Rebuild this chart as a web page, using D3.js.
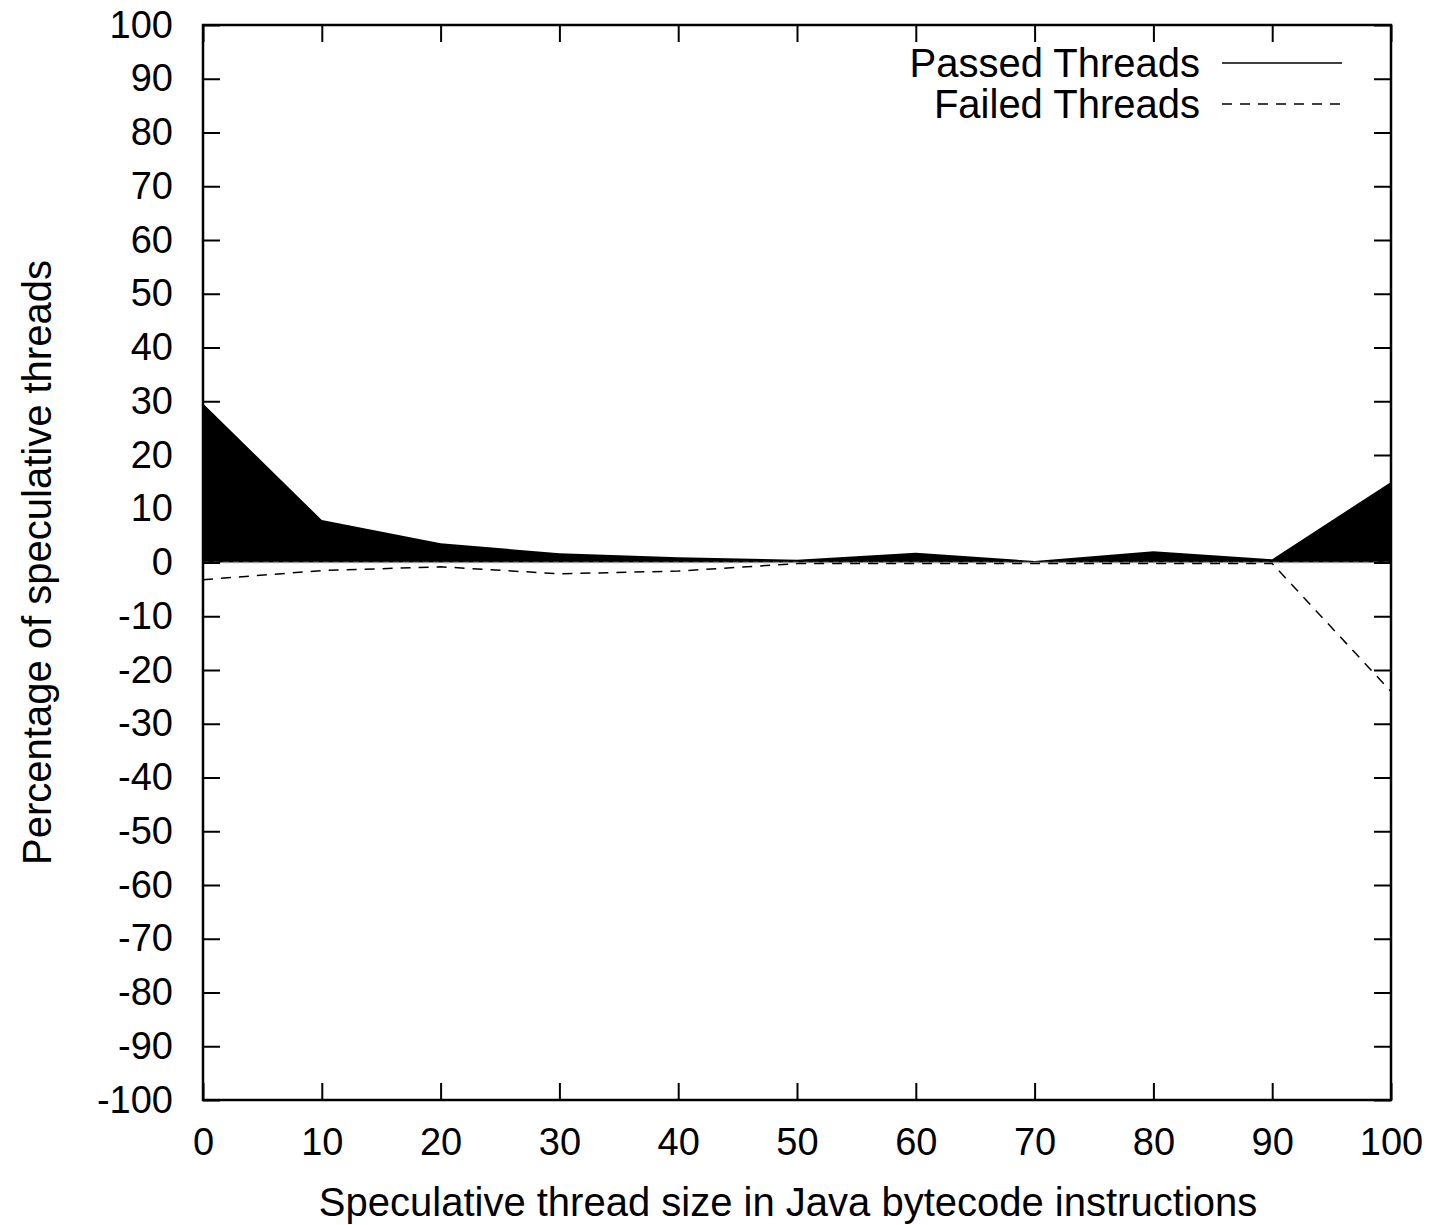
<!DOCTYPE html>
<html>
<head>
<meta charset="utf-8">
<script src="https://cdn.jsdelivr.net/npm/d3@7"></script>
<style>
  body { margin: 0; background: #fff; }
  text { font-family: "Liberation Sans", Arial, sans-serif; fill: #000; }
</style>
</head>
<body>
<script>
// data
const sizes = [0, 10, 20, 30, 40, 50, 60, 70, 80, 90, 100];
const passed = [29.6, 7.9, 3.6, 1.7, 1.0, 0.5, 1.8, 0.3, 2.1, 0.6, 15];
const failed = [-3.2, -1.5, -0.8, -2.1, -1.6, -0.2, -0.2, -0.2, -0.2, -0.2, -24];
const xTicks = [0, 10, 20, 30, 40, 50, 60, 70, 80, 90, 100];
const yTicks = d3.range(-100, 101, 10);

const margin = {top: 25, right: 47, bottom: 125, left: 203},
    width = 1438 - margin.left - margin.right,
    height = 1225 - margin.top - margin.bottom;

const svg = d3.select("body")
    .append("svg")
    .attr("width", 1438)
    .attr("height", 1225)
    .append("g")
    .attr("transform", `translate(${margin.left}, ${margin.top})`);

const x = d3.scaleLinear().domain([0, 100]).range([0, width]);
const y = d3.scaleLinear().domain([-100, 100]).range([height, 0]);

const data = sizes.map((s, i) => ({s, p: passed[i], f: failed[i]}));

// filled area for passed threads
svg.append("path")
    .datum(data)
    .attr("fill", "#000")
    .attr("d", d3.area().x(d => x(d.s)).y0(y(0)).y1(d => y(d.p)));

// zero line (dashed, shows lighter over the fill)
svg.append("line")
    .attr("x1", 0).attr("x2", width)
    .attr("y1", y(0)).attr("y2", y(0))
    .attr("stroke", "#999")
    .attr("stroke-width", 1.5)
    .attr("stroke-dasharray", "6,4");

// failed threads dashed line
svg.append("path")
    .datum(data)
    .attr("fill", "none")
    .attr("stroke", "#000")
    .attr("stroke-width", 1.5)
    .attr("stroke-dasharray", "10,8")
    .attr("d", d3.line().x(d => x(d.s)).y(d => y(d.f)));

// axes: ticks inside, mirrored on top and right
const tickLen = 17;
const fmt = d => String(d);
svg.append("g")
    .attr("transform", `translate(0, ${height})`)
    .call(d3.axisBottom(x).tickValues(xTicks).tickSize(-tickLen).tickPadding(tickLen + 11).tickFormat(fmt))
    .call(g => g.select(".domain").remove());
svg.append("g")
    .call(d3.axisTop(x).tickValues(xTicks).tickSize(-tickLen).tickFormat(""))
    .call(g => g.select(".domain").remove());
svg.append("g")
    .call(d3.axisLeft(y).tickValues(yTicks).tickSize(-tickLen).tickPadding(tickLen + 13).tickFormat(fmt))
    .call(g => g.select(".domain").remove());
svg.append("g")
    .attr("transform", `translate(${width}, 0)`)
    .call(d3.axisRight(y).tickValues(yTicks).tickSize(-tickLen).tickFormat(""))
    .call(g => g.select(".domain").remove());

svg.selectAll(".tick line").attr("stroke", "#000").attr("stroke-width", 2);
svg.selectAll(".tick text")
    .style("font-family", "'Liberation Sans', Arial, sans-serif")
    .style("font-size", "38px");

// frame
svg.append("rect")
    .attr("width", width).attr("height", height)
    .attr("fill", "none").attr("stroke", "#000").attr("stroke-width", 2.5);

// legend
const legend = [
  {label: "Passed Threads", dash: null},
  {label: "Failed Threads", dash: "10,8"}
];
legend.forEach((d, i) => {
  const ly = 38 + i * 41;
  svg.append("text")
      .attr("x", 997).attr("y", ly)
      .attr("dy", "0.35em")
      .attr("text-anchor", "end")
      .style("font-size", "40px")
      .text(d.label);
  svg.append("line")
      .attr("x1", 1019).attr("x2", 1139)
      .attr("y1", ly).attr("y2", ly)
      .attr("stroke", "#000").attr("stroke-width", 1.5)
      .attr("stroke-dasharray", d.dash);
});

// axis titles
svg.append("text")
    .attr("x", width / 2 - 9)
    .attr("y", height + 116)
    .attr("text-anchor", "middle")
    .style("font-size", "40px")
    .text("Speculative thread size in Java bytecode instructions");

svg.append("text")
    .attr("transform", `translate(${-203 + 51}, ${y(0)}) rotate(-90)`)
    .attr("text-anchor", "middle")
    .style("font-size", "40px")
    .text("Percentage of speculative threads");
</script>
</body>
</html>
